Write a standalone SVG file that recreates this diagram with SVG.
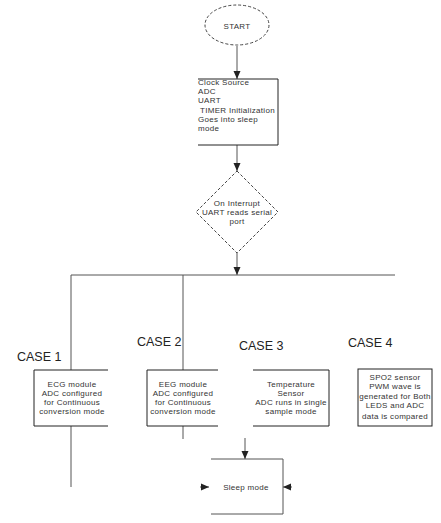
<svg xmlns="http://www.w3.org/2000/svg" width="441" height="523" viewBox="0 0 441 523">
<style>
.t{font-family:"Liberation Sans",Arial,sans-serif;font-size:8px;letter-spacing:0.3px;fill:#333}
.c{font-family:"Liberation Sans",Arial,sans-serif;font-size:12.5px;fill:#222}
.ln{stroke:#555;stroke-width:1;fill:none}
.bx{stroke:#222;stroke-width:1;fill:none}
.ds{stroke:#444;stroke-width:1;fill:none;stroke-dasharray:3,2}
</style>
<defs>
<marker id="ah" viewBox="0 0 8 8" refX="8" refY="4" markerWidth="8" markerHeight="8" markerUnits="userSpaceOnUse" orient="auto">
<path d="M0,0.5 L8,4 L0,7.5 Z" fill="#222"/>
</marker>
</defs>
<rect width="441" height="523" fill="#fff"/>
<g id="connectors">
<line class="ln" x1="237" y1="46" x2="237" y2="79" marker-end="url(#ah)"/>
<line class="ln" x1="237" y1="145" x2="237" y2="171" marker-end="url(#ah)"/>
<line class="ln" x1="237" y1="253" x2="237" y2="275" marker-end="url(#ah)"/>
<line class="ln" x1="71" y1="275" x2="395" y2="275"/>
<line class="ln" x1="71" y1="275" x2="71" y2="370"/>
<line class="ln" x1="183" y1="275" x2="183" y2="370"/>
<line class="ln" x1="71" y1="426" x2="71" y2="487"/>
<line class="ln" x1="183" y1="426" x2="183" y2="439"/>
<line class="ln" x1="245" y1="438" x2="245" y2="459" marker-end="url(#ah)"/>
<line class="ln" x1="200" y1="487" x2="209" y2="487" marker-end="url(#ah)"/>
<line class="ln" x1="292" y1="487" x2="283" y2="487" marker-end="url(#ah)"/>
</g>
<g id="start">
<ellipse class="ds" cx="237" cy="25" rx="32" ry="20"/>
<text class="t" x="237" y="29" text-anchor="middle" font-size="10">START</text>
</g>
<g id="init">
<path class="bx" d="M198,79 H278 V145 H198"/>
<text class="t" x="198" y="85">Clock Source</text>
<text class="t" x="198" y="94">ADC</text>
<text class="t" x="198" y="103">UART</text>
<text class="t" x="200" y="113" letter-spacing="0.1">TIMER Initialization</text>
<text class="t" x="198" y="122">Goes into sleep</text>
<text class="t" x="198" y="131">mode</text>
</g>
<g id="decision">
<polygon class="ds" points="237,171 278,212 237,253 196,212"/>
<text class="t" x="237" y="206" text-anchor="middle">On Interrupt</text>
<text class="t" x="237" y="215" text-anchor="middle">UART reads serial</text>
<text class="t" x="237" y="224" text-anchor="middle">port</text>
</g>
<g id="case1">
<text class="c" x="17" y="361">CASE 1</text>
<path class="bx" d="M108,370 H34 V426 H108"/>
<text class="t" x="72" y="387" text-anchor="middle">ECG module</text>
<text class="t" x="72" y="396" text-anchor="middle">ADC configured</text>
<text class="t" x="72" y="405" text-anchor="middle">for Continuous</text>
<text class="t" x="72" y="414" text-anchor="middle">conversion mode</text>
</g>
<g id="case2">
<text class="c" x="137" y="346">CASE 2</text>
<path class="bx" d="M218,370 H147 V426 H218" stroke="#555"/>
<text class="t" x="183" y="387" text-anchor="middle">EEG module</text>
<text class="t" x="183" y="396" text-anchor="middle">ADC configured</text>
<text class="t" x="183" y="405" text-anchor="middle">for Continuous</text>
<text class="t" x="183" y="414" text-anchor="middle">conversion mode</text>
</g>
<g id="case3">
<text class="c" x="239" y="350">CASE 3</text>
<path class="bx" d="M253,370 H329 V426 H253"/>
<text class="t" x="291" y="387" text-anchor="middle">Temperature</text>
<text class="t" x="291" y="396" text-anchor="middle">Sensor</text>
<text class="t" x="291" y="405" text-anchor="middle">ADC runs in single</text>
<text class="t" x="291" y="414" text-anchor="middle">sample mode</text>
</g>
<g id="case4">
<text class="c" x="348" y="347">CASE 4</text>
<rect class="bx" x="358" y="369" width="74" height="57"/>
<text class="t" x="395" y="380" text-anchor="middle" letter-spacing="0">SPO2 sensor</text>
<text class="t" x="395" y="389" text-anchor="middle" letter-spacing="0">PWM wave is</text>
<text class="t" x="395" y="399" text-anchor="middle" letter-spacing="0">generated for Both</text>
<text class="t" x="395" y="408" text-anchor="middle" letter-spacing="0">LEDS and ADC</text>
<text class="t" x="395" y="419" text-anchor="middle" letter-spacing="0">data is compared</text>
</g>
<g id="sleep">
<path class="ln" d="M211,459 H283 V514 H211"/>
<text class="t" x="246" y="490" text-anchor="middle">Sleep mode</text>
</g>
</svg>
